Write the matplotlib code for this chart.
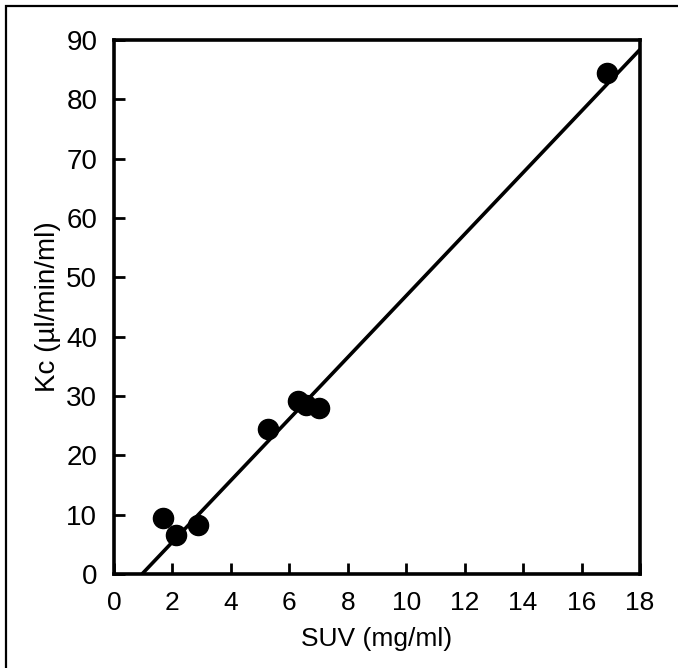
import matplotlib.pyplot as plt
from matplotlib.patches import Rectangle

# données
suv = [1.68, 2.12, 2.88, 5.27, 6.30, 6.58, 7.02, 16.88]
kc = [9.4, 6.6, 8.3, 24.4, 29.2, 28.5, 28.0, 84.5]
# droite de régression (extrémités)
fit_x = [0.96, 18.0]
fit_y = [0.0, 88.4]

xticks = [0, 2, 4, 6, 8, 10, 12, 14, 16, 18]
yticks = [0, 10, 20, 30, 40, 50, 60, 70, 80, 90]

plt.rcParams['font.family'] = ['Liberation Sans', 'DejaVu Sans']

fig = plt.figure(figsize=(6.78, 6.68), dpi=100)
ax = fig.add_axes([114/678, 1-574/668, 526/678, 534/668])

# cadre extérieur de la figure scannée
fig.patches.append(Rectangle((6/678, -0.1), 1.2, 1-6/668+0.1, transform=fig.transFigure,
                             fill=False, lw=1.6, ec='black'))

ax.plot(fit_x, fit_y, color='black', lw=2.6, solid_capstyle='butt', zorder=2)
ax.plot(suv, kc, 'o', color='black', ms=14.5, zorder=3)

ax.set_xlim(0, 18)
ax.set_ylim(0, 90)
ax.set_xticks(xticks)
ax.set_yticks(yticks)
ax.tick_params(direction='in', length=8, width=2, labelsize=20, pad=12)
ax.tick_params(axis='x', labelsize=19, pad=12)
for s in ax.spines.values():
    s.set_linewidth(2.6)

ax.set_xlabel('SUV (mg/ml)', fontsize=19, labelpad=9)
ax.set_ylabel('Kc (µl/min/ml)', fontsize=20, labelpad=4)

fig.savefig('out.png', dpi=100)
